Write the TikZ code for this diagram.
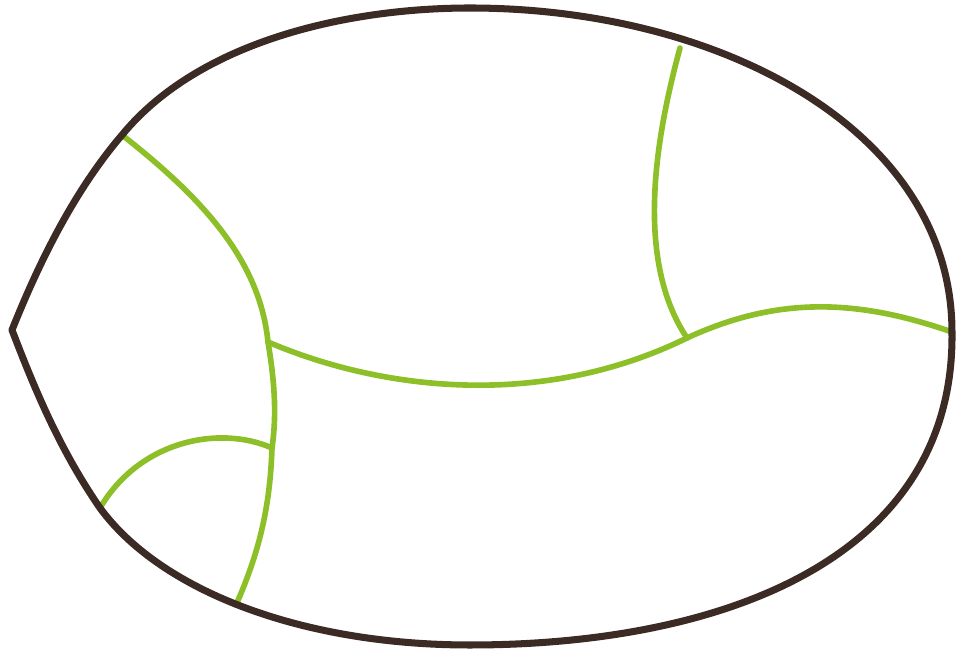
\documentclass[tikz,border=0pt]{standalone}
\definecolor{leafedge}{HTML}{3B2B24}
\definecolor{veingreen}{HTML}{8DBF28}
\tikzset{
  outline/.style={draw=leafedge, line width=2pt, line join=round},
  vein/.style={draw=veingreen, line width=1.6pt, line cap=round}
}
\begin{document}
\begin{tikzpicture}[x=0.01cm,y=-0.01cm]
\useasboundingbox (0,0) rectangle (956,652);
% points where the veins meet
\coordinate (tip) at (12,330);
\coordinate (topleft) at (122,135);
\coordinate (topright) at (680,48);
\coordinate (right) at (952,332);
\coordinate (lowleft) at (100,508);
\coordinate (bottom) at (236,605);
\coordinate (hub) at (268,342);
\coordinate (side) at (272,448);
\coordinate (knot) at (687,338);
% veins
\draw[vein] (topleft) .. controls (205,200) and (260,262) .. (hub);
\draw[vein] (hub) .. controls (276,390) and (276,420) .. (side)
  .. controls (270,510) and (258,555) .. (bottom);
\draw[vein] (lowleft) .. controls (140,440) and (220,425) .. (side);
\draw[vein] (hub) .. controls (380,390) and (540,410) .. (knot);
\draw[vein] (knot) .. controls (780,295) and (860,300) .. (right);
\draw[vein] (topright) .. controls (655,140) and (635,260) .. (knot);
% leaf outline
\draw[outline] (tip) .. controls (40,260) and (75,190) .. (topleft)
  .. controls (200,40) and (350,8) .. (470,8)
  .. controls (720,8) and (952,130) .. (right)
  .. controls (955,560) and (720,645) .. (470,645)
  .. controls (300,645) and (160,590) .. (lowleft)
  .. controls (60,450) and (35,390) .. cycle;
\end{tikzpicture}
\end{document}
